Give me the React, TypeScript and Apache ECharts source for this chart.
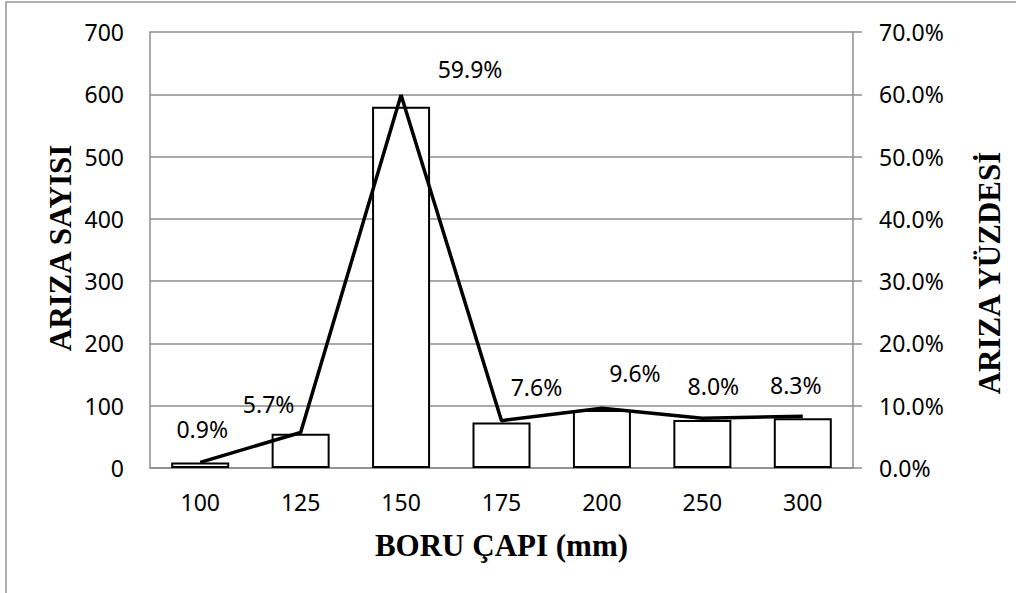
import React, { useEffect, useRef } from "react";
import * as echarts from "echarts";

const categories = ["100", "125", "150", "175", "200", "250", "300"];
const failureCounts = [9, 55, 580, 73, 93, 77, 80];
const failurePercents = [0.9, 5.7, 59.9, 7.6, 9.6, 8.0, 8.3];
const labelOffsets: [number, number][] = [
  [2, -33],
  [-32, -28],
  [69, -26],
  [35, -34],
  [33, -35],
  [11, -32],
  [-7, -31],
];

const SANS = "'Noto Sans', 'Open Sans', sans-serif";
const SERIF = "'Liberation Serif', 'DejaVu Serif', serif";
const GRID_COLOR = "#8c8c8c";

export default function App() {
  const ref = useRef<HTMLDivElement>(null);
  useEffect(() => {
    if (!ref.current) return;
    const chart = echarts.init(ref.current, undefined, { renderer: "svg" });
    chart.setOption({
      animation: false,
      backgroundColor: "#ffffff",
      grid: { left: 150, right: 163, top: 32, bottom: 125, containLabel: false },
      xAxis: {
        type: "category",
        data: categories,
        axisLine: { show: true, lineStyle: { color: GRID_COLOR, width: 1.5 } },
        axisTick: { show: false },
        axisLabel: { color: "#000", fontFamily: SANS, fontSize: 23, margin: 22 },
      },
      yAxis: [
        {
          type: "value",
          min: 0,
          max: 700,
          interval: 100,
          axisLine: { show: true, lineStyle: { color: GRID_COLOR, width: 1.5 } },
          axisTick: { show: false },
          splitLine: { show: true, lineStyle: { color: GRID_COLOR, width: 1.5 } },
          axisLabel: { color: "#000", fontFamily: SANS, fontSize: 23, margin: 26 },
        },
        {
          type: "value",
          min: 0,
          max: 70,
          interval: 10,
          position: "right",
          axisLine: { show: true, lineStyle: { color: GRID_COLOR, width: 1.5 } },
          axisTick: { show: true, length: 9, lineStyle: { color: GRID_COLOR, width: 1.5 } },
          splitLine: { show: false },
          axisLabel: {
            color: "#000",
            fontFamily: SANS,
            fontSize: 23,
            margin: 26,
            formatter: (v: number) => v.toFixed(1) + "%",
          },
        },
      ],
      series: [
        {
          type: "bar",
          yAxisIndex: 0,
          data: failureCounts,
          barWidth: 58,
          itemStyle: { color: "#ffffff", borderColor: "#000", borderWidth: 2 },
        },
        {
          type: "line",
          yAxisIndex: 1,
          data: failurePercents.map((v, i) => ({
            value: v,
            label: { offset: labelOffsets[i] },
          })),
          symbol: "circle",
          symbolSize: 0,
          showSymbol: true,
          lineStyle: { color: "#000", width: 3.5 },
          itemStyle: { color: "#000" },
          label: {
            show: true,
            position: "inside",
            color: "#000",
            fontFamily: SANS,
            fontSize: 23,
            formatter: (p: any) => Number(p.value).toFixed(1) + "%",
          },
          z: 5,
        },
      ],
      graphic: [
        {
          type: "rect",
          shape: { x: 6, y: 2, width: 1200, height: 800 },
          style: { fill: "none", stroke: "#959595", lineWidth: 1.5 },
          silent: true,
        },
        {
          type: "text",
          x: 501.5,
          y: 545,
          style: {
            text: "BORU ÇAPI (mm)",
            font: `bold 31px ${SERIF}`,
            fill: "#000",
            align: "center",
            verticalAlign: "middle",
          },
        },
        {
          type: "text",
          x: 60,
          y: 248,
          rotation: Math.PI / 2,
          style: {
            text: "ARIZA SAYISI",
            font: `bold 31px ${SERIF}`,
            fill: "#000",
            align: "center",
            verticalAlign: "middle",
          },
        },
        {
          type: "text",
          x: 989,
          y: 273,
          rotation: Math.PI / 2,
          style: {
            text: "ARIZA YÜZDESİ",
            font: `bold 31px ${SERIF}`,
            fill: "#000",
            align: "center",
            verticalAlign: "middle",
          },
        },
      ],
    });
    return () => chart.dispose();
  }, []);
  return (
    <div
      ref={ref}
      style={{ position: "fixed", left: 0, top: 0, width: 1016, height: 593 }}
    />
  );
}
